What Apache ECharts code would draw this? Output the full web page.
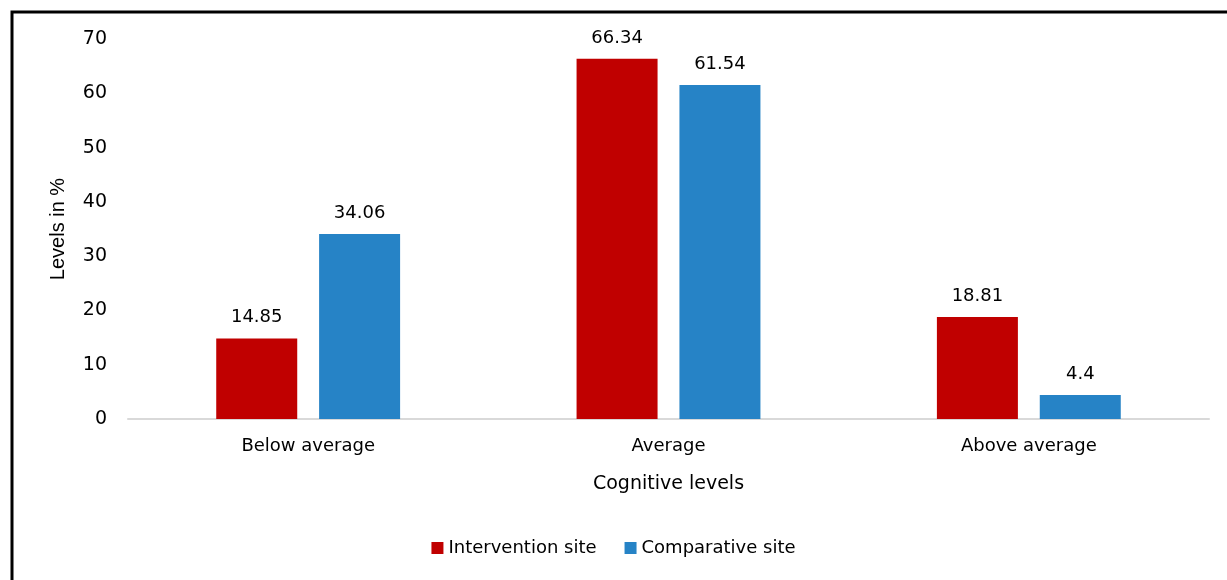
<!DOCTYPE html>
<html>
<head>
<meta charset="utf-8">
<script src="https://cdn.jsdelivr.net/npm/echarts@6/dist/echarts.min.js"></script>
<style>
  html, body { margin: 0; padding: 0; background: #fff; }
  #chart { width: 1227px; height: 580px; }
</style>
</head>
<body>
<div id="chart"></div>
<script>
// Cognitive level distribution by site
const categories = ['Below average', 'Average', 'Above average'];
const interventionSite = [14.85, 66.34, 18.81];
const comparativeSite = [34.06, 61.54, 4.4];
const seriesNames = ['Intervention site', 'Comparative site'];

const FONT = '"DejaVu Sans", sans-serif';
const chart = echarts.init(document.getElementById('chart'));

const labelStyle = {
  show: true,
  position: 'top',
  distance: 12,
  color: '#000',
  fontSize: 18,
  fontFamily: FONT
};

chart.setOption({
  animation: false,
  textStyle: { fontFamily: FONT },
  graphic: [{
    type: 'polyline',
    shape: { points: [[12, 580], [12, 12], [1227, 12]] },
    style: { stroke: '#000', lineWidth: 3, fill: null },
    silent: true
  }],
  grid: { left: 128, right: 18, top: 39, bottom: 161 },
  legend: {
    bottom: 18,
    left: 'center',
    itemWidth: 12,
    itemHeight: 12,
    itemGap: 28,
    icon: 'rect',
    textStyle: { color: '#000', fontSize: 18, fontFamily: FONT },
    data: seriesNames
  },
  xAxis: {
    type: 'category',
    data: categories,
    name: 'Cognitive levels',
    nameLocation: 'middle',
    nameGap: 56,
    nameTextStyle: { color: '#000', fontSize: 19, fontFamily: FONT },
    axisLine: { lineStyle: { color: '#d9d9d9', width: 2 } },
    axisTick: { show: false },
    axisLabel: { color: '#000', fontSize: 18, margin: 18, fontFamily: FONT }
  },
  yAxis: {
    type: 'value',
    min: 0,
    max: 70,
    interval: 10,
    name: 'Levels in %',
    nameLocation: 'middle',
    nameGap: 60,
    nameRotate: 90,
    nameTextStyle: { color: '#000', fontSize: 20, fontFamily: '"Liberation Sans", Arial, sans-serif' },
    axisLine: { show: false },
    axisTick: { show: false },
    splitLine: { show: false },
    axisLabel: { color: '#000', fontSize: 19, margin: 21, fontFamily: FONT }
  },
  series: [
    {
      name: seriesNames[0],
      type: 'bar',
      data: interventionSite,
      barWidth: 81,
      barGap: '27%',
      itemStyle: { color: '#C00000' },
      label: labelStyle
    },
    {
      name: seriesNames[1],
      type: 'bar',
      data: comparativeSite,
      barWidth: 81,
      itemStyle: { color: '#2683C6' },
      label: labelStyle
    }
  ]
});
</script>
</body>
</html>
